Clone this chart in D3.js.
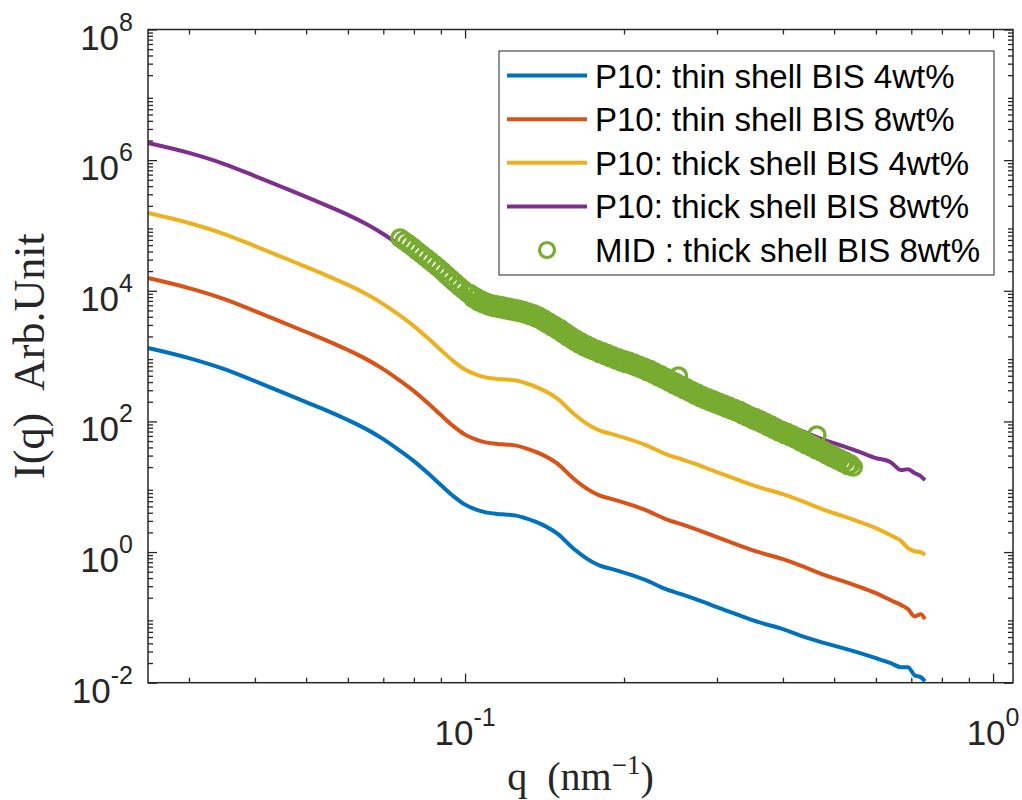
<!DOCTYPE html>
<html>
<head>
<meta charset="utf-8">
<script src="https://cdn.jsdelivr.net/npm/d3@7"></script>
<style>
  body { margin: 0; background: #fff; }
  svg { display: block; }
</style>
</head>
<body>
<svg id="chart" width="1022" height="800"></svg>
<script>
// Scattering vector q (nm^-1) shared by the four P10 curves
const q = [0.0251, 0.03, 0.035, 0.04, 0.045, 0.05, 0.055, 0.06, 0.065, 0.07, 0.075, 0.08,
  0.085, 0.09, 0.095, 0.10, 0.105, 0.11, 0.115, 0.12, 0.125, 0.13, 0.14, 0.15, 0.16, 0.17,
  0.18, 0.19, 0.20, 0.22, 0.24, 0.26, 0.28, 0.30, 0.33, 0.36, 0.40, 0.44, 0.48, 0.52, 0.56,
  0.60, 0.64, 0.67, 0.69, 0.71, 0.73, 0.743];

// I(q) for each P10 sample
const thin4 = [1330, 932, 632, 414, 281, 198, 144, 105, 76.2, 53.6, 36.4, 24.7, 16.2, 10.6,
  7.18, 5.32, 4.46, 4.01, 3.83, 3.74, 3.61, 3.31, 2.63, 1.88, 1.15, 0.793, 0.619, 0.547,
  0.484, 0.371, 0.270, 0.219, 0.177, 0.143, 0.108, 0.0844, 0.0660, 0.0497, 0.0403, 0.0338,
  0.0283, 0.0237, 0.0199, 0.0173, 0.0173, 0.0130, 0.0121, 0.0105];
const thin8 = [1.57e4, 1.10e4, 7.46e3, 4.89e3, 3.32e3, 2.34e3, 1.70e3, 1.24e3, 899, 632, 430,
  291, 191, 125, 84.7, 62.8, 52.6, 47.3, 45.2, 44.1, 42.6, 39.1, 31.0, 22.2, 13.6, 9.36,
  7.30, 6.45, 5.71, 4.38, 3.19, 2.58, 2.09, 1.69, 1.27, 0.996, 0.779, 0.586, 0.443, 0.358,
  0.290, 0.235, 0.183, 0.154, 0.134, 0.104, 0.112, 0.0939];
const thick4 = [1.55e5, 1.09e5, 7.39e4, 4.84e4, 3.29e4, 2.32e4, 1.68e4, 1.23e4, 8.90e3,
  6.26e3, 4.26e3, 2.88e3, 1.89e3, 1.24e3, 839, 622, 521, 468, 447, 437, 422, 387, 307, 220,
  135, 92.7, 72.3, 63.9, 56.5, 43.4, 31.6, 25.5, 20.7, 16.7, 12.6, 9.86, 7.71, 5.80, 4.39,
  3.54, 2.87, 2.33, 1.81, 1.47, 1.15, 1.03, 0.997, 0.897];
const thick8 = [1.83e6, 1.29e6, 8.72e5, 5.71e5, 3.88e5, 2.74e5, 1.98e5, 1.45e5, 1.05e5,
  7.39e4, 5.03e4, 3.40e4, 2.23e4, 1.46e4, 9.90e3, 7.34e3, 6.15e3, 5.52e3, 5.27e3, 5.16e3,
  4.98e3, 4.57e3, 3.62e3, 2.60e3, 1.59e3, 1.09e3, 853, 754, 667, 512, 373, 301, 244, 197,
  149, 116, 91.0, 68.4, 51.8, 41.8, 33.9, 27.5, 23.8, 18.0, 18.6, 16.2, 14.5, 12.6];

// MID measurement: thick shell, BIS 8wt%
const midQ = [0.07534, 0.07674, 0.07817, 0.07962, 0.08110, 0.08261, 0.08414, 0.08571,
  0.08730, 0.08892, 0.09057, 0.09226, 0.09397, 0.09572, 0.09750, 0.09931, 0.1012,
  0.1023, 0.1035, 0.1047, 0.1059, 0.1072, 0.1084, 0.1096, 0.1109, 0.1122, 0.1135,
  0.1148, 0.1161, 0.1175, 0.1189, 0.1202, 0.1216, 0.1230, 0.1245, 0.1259, 0.1274,
  0.1288, 0.1303, 0.1318, 0.1333, 0.1349, 0.1365, 0.1380, 0.1396, 0.1412, 0.1429,
  0.1445, 0.1462, 0.1479, 0.1496, 0.1514, 0.1531, 0.1549, 0.1567, 0.1585, 0.1603,
  0.1622, 0.1641, 0.1660, 0.1679, 0.1698, 0.1718, 0.1738, 0.1758, 0.1778, 0.1799,
  0.1820, 0.1841, 0.1862, 0.1884, 0.1905, 0.1928, 0.1950, 0.1972, 0.1995, 0.2018,
  0.2042, 0.2065, 0.2089, 0.2113, 0.2138, 0.2163, 0.2188, 0.2213, 0.2239, 0.2265,
  0.2291, 0.2317, 0.2344, 0.2371, 0.2399, 0.2427, 0.2455, 0.2483, 0.2512, 0.2541,
  0.2570, 0.2600, 0.2630, 0.2661, 0.2692, 0.2723, 0.2754, 0.2786, 0.2818, 0.2851,
  0.2884, 0.2917, 0.2951, 0.2985, 0.3020, 0.3055, 0.3090, 0.3126, 0.3162, 0.3199,
  0.3236, 0.3273, 0.3311, 0.3350, 0.3388, 0.3428, 0.3467, 0.3508, 0.3548, 0.3589,
  0.3631, 0.3673, 0.3715, 0.3758, 0.3802, 0.3846, 0.3890, 0.3936, 0.3981, 0.4027,
  0.4074, 0.4121, 0.4169, 0.4217, 0.4266, 0.4315, 0.4365, 0.4416, 0.4467, 0.4519,
  0.4571, 0.4624, 0.4677, 0.4732, 0.4786, 0.4842, 0.4898, 0.4955, 0.5012, 0.5070,
  0.5129, 0.5188, 0.5248, 0.5309, 0.5370, 0.5433,
  0.2535, 0.4636];
const midI = [6.40e4, 5.77e4, 5.20e4, 4.64e4, 4.11e4, 3.65e4, 3.25e4, 2.88e4, 2.56e4,
  2.27e4, 2.00e4, 1.75e4, 1.53e4, 1.34e4, 1.17e4, 1.04e4, 9.20e3,
  9.00e3, 7.67e3, 8.05e3, 6.85e3, 7.24e3, 6.28e3, 6.72e3, 5.83e3, 6.30e3, 5.57e3,
  6.07e3, 5.37e3, 5.85e3, 5.17e3, 5.64e3, 4.98e3, 5.43e3, 4.80e3, 5.23e3, 4.62e3,
  4.99e3, 4.36e3, 4.71e3, 4.12e3, 4.41e3, 3.81e3, 4.09e3, 3.50e3, 3.68e3, 3.13e3,
  3.29e3, 2.80e3, 2.94e3, 2.50e3, 2.64e3, 2.22e3, 2.31e3, 1.95e3, 2.03e3, 1.73e3,
  1.81e3, 1.55e3, 1.63e3, 1.40e3, 1.49e3, 1.28e3, 1.36e3, 1.19e3, 1.26e3, 1.10e3,
  1.17e3, 1.02e3, 1.09e3, 946, 1.01e3, 878, 940, 817, 883, 773,
  835, 728, 779, 676, 723, 627, 671, 582, 623, 535,
  568, 488, 518, 445, 471, 405, 429, 369, 391, 336,
  356, 306, 325, 279, 296, 254, 270, 232, 248, 215,
  230, 199, 214, 185, 198, 172, 184, 159, 171, 148,
  158, 138, 148, 127, 134, 116, 122, 106, 114, 98.7,
  105, 90.4, 95.8, 82.4, 87.4, 75.0, 79.6, 68.4, 72.9, 63.3,
  67.8, 58.7, 62.4, 53.6, 56.8, 48.8, 51.8, 44.5, 47.1, 40.5,
  43.0, 36.9, 39.1, 33.6, 35.6, 30.6, 32.5, 27.9, 29.6, 25.4,
  27.0, 23.2, 24.6, 21.2, 22.3, 20.1,
  494, 61.7];

const seriesNames = [
  "P10: thin shell BIS 4wt%",
  "P10: thin shell BIS 8wt%",
  "P10: thick shell BIS 4wt%",
  "P10: thick shell BIS 8wt%",
  "MID : thick shell BIS 8wt%"
];
const seriesColors = ["#0072BD", "#D95319", "#EDB120", "#7E2F8E", "#77AC30"];
const xTickValues = [0.1, 1];
const xTickExponents = ["-1", "0"];
const yTickValues = [1e-2, 1e0, 1e2, 1e4, 1e6, 1e8];
const yTickExponents = ["-2", "0", "2", "4", "6", "8"];

const svg = d3.select("#chart");
const box = { left: 148, right: 1013, top: 29.5, bottom: 682.7 };
const axisColor = "#262626";
const sansFont = "'Liberation Sans', Arial, Helvetica, sans-serif";
const serifFont = "'Liberation Serif', 'Times New Roman', serif";
const markerR = 8.2, markerW = 3.4;

const x = d3.scaleLog().domain([0.02509, 1.0908]).range([box.left, box.right]);
const y = d3.scaleLog().domain([1e-2, 1e8]).range([box.bottom, box.top]);

// minor ticks: 2..9 inside every decade that falls in the domain
function minorTicks(scale, lo, hi) {
  const out = [];
  const [d0, d1] = scale.domain();
  for (let e = lo; e <= hi; e++) {
    for (let m = 2; m <= 9; m++) {
      const v = m * Math.pow(10, e);
      if (v > d0 && v < d1) out.push(v);
    }
  }
  return out;
}
const xMinor = minorTicks(x, -2, 0);
const yMinor = minorTicks(y, -2, 7);

svg.append("rect").attr("width", 1022).attr("height", 800).attr("fill", "#fff");

// ---- data ----
const lines = [thin4, thin8, thick4, thick8];
const line = d3.line().x(d => x(d[0])).y(d => y(d[1])).curve(d3.curveMonotoneX);
const plotG = svg.append("g");
lines.forEach((vals, i) => {
  plotG.append("path")
    .datum(q.map((qq, k) => [qq, vals[k]]))
    .attr("fill", "none")
    .attr("stroke", seriesColors[i])
    .attr("stroke-width", 4)
    .attr("stroke-linejoin", "round")
    .attr("d", line);
});

plotG.append("g").selectAll("circle")
  .data(midQ.map((qq, k) => [qq, midI[k]]))
  .join("circle")
  .attr("cx", d => x(d[0]))
  .attr("cy", d => y(d[1]))
  .attr("r", markerR)
  .attr("fill", "none")
  .attr("stroke", seriesColors[4])
  .attr("stroke-width", markerW);

// ---- axes: inward ticks on all four sides ----
function styleAxis(g) {
  g.select(".domain").remove();
  g.selectAll(".tick line").attr("stroke", axisColor).attr("stroke-width", 1.3);
  g.selectAll(".tick text").remove();
}
const axes = svg.append("g");
[[xTickValues, 9], [xMinor, 5]].forEach(([vals, len]) => {
  axes.append("g").attr("transform", `translate(0,${box.bottom})`)
    .call(d3.axisBottom(x).tickValues(vals).tickSize(-len).tickSizeOuter(0).tickFormat(""))
    .call(styleAxis);
  axes.append("g").attr("transform", `translate(0,${box.top})`)
    .call(d3.axisTop(x).tickValues(vals).tickSize(-len).tickSizeOuter(0).tickFormat(""))
    .call(styleAxis);
});
[[yTickValues, 9], [yMinor, 5]].forEach(([vals, len]) => {
  axes.append("g").attr("transform", `translate(${box.left},0)`)
    .call(d3.axisLeft(y).tickValues(vals).tickSize(-len).tickSizeOuter(0).tickFormat(""))
    .call(styleAxis);
  axes.append("g").attr("transform", `translate(${box.right},0)`)
    .call(d3.axisRight(y).tickValues(vals).tickSize(-len).tickSizeOuter(0).tickFormat(""))
    .call(styleAxis);
});
axes.append("rect")
  .attr("x", box.left).attr("y", box.top)
  .attr("width", box.right - box.left).attr("height", box.bottom - box.top)
  .attr("fill", "none").attr("stroke", axisColor).attr("stroke-width", 1.5);

// power-of-ten tick labels
function powerLabel(sel, exp) {
  sel.append("tspan").text("10");
  sel.append("tspan").attr("dy", -19).attr("font-size", 25).text(exp);
}
yTickValues.forEach((v, i) => {
  svg.append("text")
    .attr("x", 133).attr("y", y(v) + 20)
    .attr("text-anchor", "end")
    .attr("font-family", sansFont).attr("font-size", 35)
    .attr("fill", axisColor)
    .call(powerLabel, yTickExponents[i]);
});
xTickValues.forEach((v, i) => {
  svg.append("text")
    .attr("x", x(v)).attr("y", 745)
    .attr("text-anchor", "middle")
    .attr("font-family", sansFont).attr("font-size", 35)
    .attr("fill", axisColor)
    .call(powerLabel, xTickExponents[i]);
});

// axis titles
const xTitle = svg.append("text")
  .attr("x", (box.left + box.right) / 2).attr("y", 790)
  .attr("text-anchor", "middle")
  .attr("font-family", serifFont).attr("font-size", 40)
  .attr("fill", axisColor);
xTitle.append("tspan").text("q\u2002(nm");
xTitle.append("tspan").attr("dy", -16).attr("font-size", 27).text("\u22121");
xTitle.append("tspan").attr("dy", 16).text(")");

svg.append("text")
  .attr("transform", `translate(44,${(box.top + box.bottom) / 2}) rotate(-90)`)
  .attr("text-anchor", "middle")
  .attr("font-family", serifFont).attr("font-size", 44)
  .attr("fill", axisColor)
  .text("I(q)\u2002Arb.Unit");

// ---- legend ----
const legend = svg.append("g");
legend.append("rect")
  .attr("x", 499).attr("y", 51).attr("width", 495).attr("height", 224)
  .attr("fill", "#fff").attr("stroke", axisColor).attr("stroke-width", 1);
const rowY = d3.scaleLinear().domain([0, 4]).range([75.6, 250]);
seriesNames.forEach((name, i) => {
  const cy = rowY(i);
  if (i < 4) {
    legend.append("line")
      .attr("x1", 507).attr("x2", 587).attr("y1", cy).attr("y2", cy)
      .attr("stroke", seriesColors[i]).attr("stroke-width", 4);
  } else {
    legend.append("circle")
      .attr("cx", 547).attr("cy", cy).attr("r", 7.5)
      .attr("fill", "none").attr("stroke", seriesColors[i]).attr("stroke-width", 3.2);
  }
  legend.append("text")
    .attr("x", 595).attr("y", cy + 12)
    .attr("font-family", sansFont).attr("font-size", 33)
    .attr("fill", "#000")
    .text(name);
});
</script>
</body>
</html>
